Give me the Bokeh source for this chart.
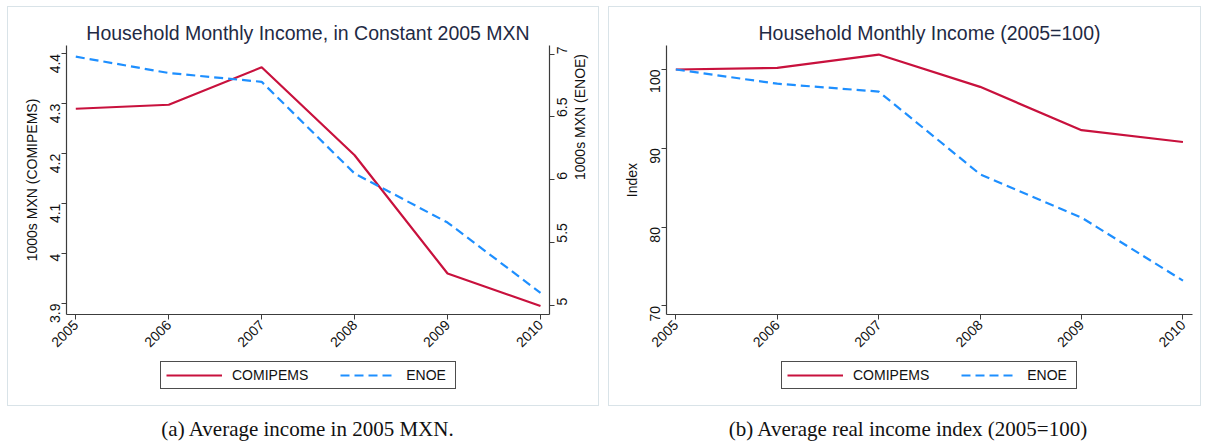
import math

from bokeh.embed import file_html
from bokeh.layouts import column, row
from bokeh.models import (Div, FixedTicker, Legend, LegendItem, LinearAxis,
                          NumeralTickFormatter, Range1d, Spacer)
from bokeh.plotting import figure
from bokeh.resources import INLINE

# ---- data -----------------------------------------------------------------
years = [2005, 2006, 2007, 2008, 2009, 2010]

# average household monthly income, thousands of constant 2005 MXN
comipems_income = [4.290, 4.298, 4.373, 4.197, 3.960, 3.895]
enoe_income = [6.98, 6.85, 6.78, 6.05, 5.66, 5.10]

# real income index, 2005 = 100
comipems_index = [100.0, 100.2, 101.9, 97.8, 92.3, 90.8]
enoe_index = [100.0, 98.2, 97.2, 86.7, 81.2, 73.2]

left_ticks_a = [3.9, 4.0, 4.1, 4.2, 4.3, 4.4]
right_ticks_a = [5, 5.5, 6, 6.5, 7]
ticks_b = [70, 80, 90, 100]

series_names = ["COMIPEMS", "ENOE"]

# ---- style ----------------------------------------------------------------
SANS = "Liberation Sans"
SERIF = "Liberation Serif"
RED = "#c8113d"
BLUE = "#1e8fff"
AXIS = "#3c3c3c"
TITLE = "#1f2a44"
BORDER = "#d9e3e8"
TEXT = "#111111"
DASH = "9 5"


def style_axis(ax, ticks, orientation):
    ax.ticker = FixedTicker(ticks=ticks)
    ax.axis_line_color = AXIS
    ax.axis_line_width = 1.2
    ax.major_tick_line_color = AXIS
    ax.major_tick_out = 5
    ax.major_tick_in = 0
    ax.minor_tick_line_color = None
    ax.major_label_text_font = SANS
    ax.major_label_text_font_size = "14px"
    ax.major_label_text_color = TEXT
    ax.major_label_orientation = orientation
    ax.axis_label_text_font = SANS
    ax.axis_label_text_font_size = "14px"
    ax.axis_label_text_font_style = "normal"
    ax.axis_label_text_color = TEXT


def make_panel(width, title, x_range, y_range, border_left, border_right):
    # plotting area: frame 38px below the top edge, 45px above the bottom
    p = figure(width=width, height=352, x_range=x_range, y_range=y_range,
               output_backend="svg", toolbar_location=None,
               min_border_left=border_left, min_border_right=border_right,
               min_border_top=38, min_border_bottom=45)
    p.outline_line_color = None
    p.background_fill_color = "white"
    p.border_fill_color = "white"
    p.xgrid.visible = False
    p.ygrid.visible = False
    p.title.text = title
    p.title.align = "center"
    p.title.text_font = SANS
    p.title.text_font_size = "19.5px"
    p.title.text_font_style = "normal"
    p.title.text_color = TITLE
    p.title.standoff = 4
    style_axis(p.xaxis[0], years, math.pi / 4)
    p.xaxis[0].major_label_standoff = 3
    return p


def legend_strip(width, x_off):
    # a slim, axis-less strip holding the boxed legend under each panel;
    # the one-point lines only lend their style to the legend swatches
    s = figure(width=width, height=46, x_range=Range1d(0, 1),
               y_range=Range1d(0, 1), x_axis_type=None, y_axis_type=None,
               output_backend="svg", toolbar_location=None, min_border=0)
    s.outline_line_color = None
    s.xgrid.visible = False
    s.ygrid.visible = False
    solid = s.line(x=[0.5], y=[0.5], line_color=RED, line_width=2.2)
    dashed = s.line(x=[0.5], y=[0.5], line_color=BLUE, line_width=2.2,
                    line_dash=DASH)
    legend = Legend(
        items=[LegendItem(label=series_names[0], renderers=[solid]),
               LegendItem(label=series_names[1], renderers=[dashed])],
        orientation="horizontal", location=(x_off, 16), margin=0,
        padding=5, spacing=32, glyph_width=56, glyph_height=12,
        label_standoff=10, label_height=12, label_width=44,
        label_text_font=SANS, label_text_font_size="14px",
        label_text_color=TEXT,
        border_line_color="#4d4d4d", border_line_width=1.5,
        border_line_alpha=1.0,
        background_fill_color="white", background_fill_alpha=1.0)
    s.add_layout(legend)
    return s


def caption(text, width):
    return Div(text=text, width=width, height=23, margin=0,
               styles={"font-family": f"'{SERIF}', serif",
                       "font-size": "21px", "line-height": "1",
                       "text-align": "center", "color": TEXT})


# ---- (a) income levels, two scales ---------------------------------------
pa = make_panel(590, "Household Monthly Income, in Constant 2005 MXN",
                Range1d(2004.9, 2010.097), Range1d(3.878, 4.4167), 58, 47)
pa.extra_y_ranges = {"enoe": Range1d(4.928, 7.069)}

style_axis(pa.yaxis[0], left_ticks_a, math.pi / 2)
pa.yaxis[0].formatter = NumeralTickFormatter(format="0.[0]")
pa.yaxis[0].axis_label = "1000s MXN (COMIPEMS)"
pa.yaxis[0].major_label_standoff = 6
pa.yaxis[0].axis_label_standoff = 3

right_axis = LinearAxis(y_range_name="enoe")
style_axis(right_axis, right_ticks_a, math.pi / 2)
right_axis.formatter = NumeralTickFormatter(format="0.[0]")
right_axis.axis_label = "1000s MXN (ENOE)"
right_axis.major_label_standoff = 8
right_axis.axis_label_standoff = 4
if hasattr(right_axis, "axis_label_orientation"):
    right_axis.axis_label_orientation = math.pi / 2
pa.add_layout(right_axis, "right")

pa.line(years, comipems_income, line_color=RED, line_width=2.2)
pa.line(years, enoe_income, y_range_name="enoe", line_color=BLUE,
        line_width=2.2, line_dash=DASH)

# ---- (b) real income index -----------------------------------------------
pb = make_panel(591, "Household Monthly Income (2005=100)",
                Range1d(2004.908, 2010.094), Range1d(68.9, 103.05), 57, 8)
style_axis(pb.yaxis[0], ticks_b, math.pi / 2)
pb.yaxis[0].axis_label = "Index"
pb.yaxis[0].major_label_standoff = 6
pb.yaxis[0].axis_label_standoff = 3

pb.line(years, comipems_index, line_color=RED, line_width=2.2)
pb.line(years, enoe_index, line_color=BLUE, line_width=2.2, line_dash=DASH)

# ---- boxed panels with captions ------------------------------------------
box = {"outline": f"1px solid {BORDER}"}
panel_a = column(pa, legend_strip(590, 94), styles=box)
panel_b = column(pb, legend_strip(591, 115), styles=box)

cap_a = caption("(a) Average income in 2005 MXN.", 593)
cap_b = caption("(b) Average real income index (2005=100)", 598)

panels = row(Spacer(width=8), panel_a, Spacer(width=11), panel_b)
captions = row(Spacer(width=11), cap_a, Spacer(width=5), cap_b)
layout = column(Spacer(height=7), panels, Spacer(height=14), captions)

open("out.html", "w").write(file_html(layout, INLINE))
